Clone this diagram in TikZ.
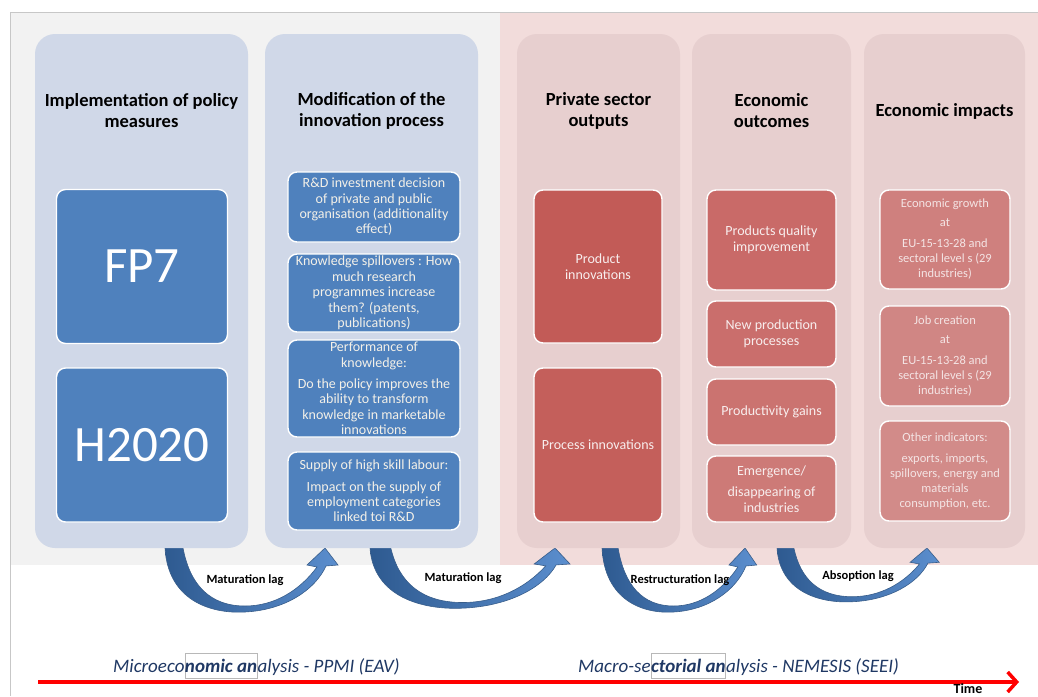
\documentclass[tikz,border=0pt]{standalone}
\usepackage{fontspec}
\setmainfont{Carlito}
\usepackage{xcolor}
\usepackage{tikz}
\usetikzlibrary{
    positioning,
    arrows.meta
}
\definecolor{panelgray}{HTML}{F2F2F2}
\definecolor{panelpink}{HTML}{F2DCDB}
\definecolor{colblue}{HTML}{D0D8E8}
\definecolor{colpink}{HTML}{E7CFCF}
\definecolor{boxblue}{HTML}{4F81BD}
\definecolor{navy}{HTML}{1F3864}
\definecolor{lagdark}{HTML}{2E5A90}
\definecolor{laglight}{HTML}{5B8ECE}
\definecolor{lagline}{HTML}{385D8A}
\tikzset{
  bluecol/.style = {
      rectangle,
      rounded corners=20pt,
      fill=colblue,
      minimum width=213pt,
      minimum height=514pt,
      inner sep=0pt
  },
  pinkcol/.style = {
      bluecol,
      fill=colpink
  },
  title/.style = {
      font=\fontsize{18.5}{21}\selectfont\bfseries,
      align=center,
      text=black
  },
  basic/.style = {
      draw=white,
      line width=1.4pt,
      rectangle,
      rounded corners=9pt,
      align=center,
      inner sep=1pt
  },
  bluebox/.style = {
      basic,
      fill=boxblue,
      text={rgb,255:red,243;green,240;blue,232},
      font=\fontsize{14}{15.4}\selectfont
  },
  bigbox/.style = {
      bluebox,
      minimum width=171pt,
      minimum height=154pt,
      text=white,
      font=\fontsize{51}{56}\selectfont
  },
  redbox/.style = {
      basic,
      text={rgb,255:red,248;green,238;blue,238},
      font=\fontsize{14}{16}\selectfont
  },
  smallbox/.style = {
      redbox,
      minimum width=130pt,
      minimum height=99pt,
      text={rgb,255:red,244;green,228;blue,228},
      font=\fontsize{12.5}{15}\selectfont
  },
  lag/.style = {
      font=\fontsize{12.5}{14}\selectfont\bfseries,
      text=black,
      inner sep=1pt
  },
  analysis/.style = {
      font=\fontsize{19}{22}\selectfont\itshape,
      text=navy,
      inner sep=0pt
  },
  marked/.style = {
      analysis,
      draw=black!28,
      line width=0.5pt,
      text height=19pt,
      text depth=6pt,
      font=\fontsize{19}{22}\selectfont\bfseries\itshape
  },
  timeline/.style = {
      red,
      line width=4pt,
      -{Straight Barb[length=9pt,width=20pt,line width=3.5pt]}
  }
}
% curved lag arrow: start x, xscale, yscale
\newcommand{\lagarrow}[3]{%
  \shade[draw=lagline, line width=0.6pt, left color=lagdark, right color=laglight,
         shift={(#1,548)}, xscale=#2, yscale=#3]
    (0,-12) -- (0,0) .. controls (3,52) and (45,66) .. (80,64)
    .. controls (120,62) and (150,42) .. (161,18)
    -- (173,17) -- (160,0) -- (142,17) -- (152,19)
    .. controls (135,42) and (110,58) .. (80,58)
    .. controls (45,58) and (25,37) .. (18,0) -- (18,-12) -- cycle;
}

\begin{document}
\begin{tikzpicture}[x=1pt, y=-1pt]
    \useasboundingbox (0,0) rectangle (1038,696);
    % Panels
    \fill[panelgray] (10,12) rectangle (500,565);
    \fill[panelpink] (500,12) rectangle (1038,565);
    \draw[black!22, line width=0.8pt] (10,696) -- (10,12) -- (1038,12);
    % Lag arrows
    \lagarrow{165}{1}{1}
    \lagarrow{370}{1.156}{0.94}
    \lagarrow{602}{0.894}{1}
    \lagarrow{777}{0.9375}{0.84}
    % Columns
    \node[bluecol] (policy) at (141.5,291) {};
    \node[bluecol] (process) at (371.5,291) {};
    \node[pinkcol, minimum width=163pt] (outputs) at (598.5,291) {};
    \node[pinkcol, minimum width=159pt] (outcomes) at (771.5,291) {};
    \node[pinkcol, minimum width=161pt] (impacts) at (944.5,291) {};
    % Titles
    \node[title] at (141.5,110.5) {Implementation of policy\\measures};
    \node[title] at (371.5,110.5) {Modification of the\\innovation process};
    \node[title] at (598.5,111) {Private sector\\outputs};
    \node[title] at (771.5,111) {Economic\\outcomes};
    \node[title] at (944.5,111) {Economic impacts};
    % Policy measures
    \node[bigbox] (fp7) at (142,266.5) {FP7};
    \node[bigbox] (h2020) at (142,445) {H2020};
    % Innovation process
    \node[bluebox, minimum width=172pt, minimum height=70pt] (rd) at (374,207)
        {R\&D investment decision\\of private and public\\organisation (additionality\\effect)};
    \node[bluebox, minimum width=172pt, minimum height=78pt] (spill) at (374,293)
        {Knowledge spillovers : How\\much research\\programmes increase\\them? (patents,\\publications)};
    \node[bluebox, minimum width=172pt, minimum height=97pt] (perf) at (374,388.5)
        {Performance of\\knowledge:\\[6pt]Do the policy improves the\\ability to transform\\knowledge in marketable\\innovations};
    \node[bluebox, minimum width=172pt, minimum height=78pt] (skill) at (374,491)
        {Supply of high skill labour:\\[6pt]Impact on the supply of\\employment categories\\linked toi R\&D};
    % Private sector outputs
    \node[redbox, fill={rgb,255:red,194;green,91;blue,87}, minimum width=128pt, minimum height=153pt] (product) at (598,266.5)
        {Product\\innovations};
    \node[redbox, fill={rgb,255:red,196;green,95;blue,91}, minimum width=128pt, minimum height=154pt] (procinn) at (598,445)
        {Process innovations};
    % Economic outcomes
    \node[redbox, fill={rgb,255:red,201;green,106;blue,104}, minimum width=129pt, minimum height=100pt] (quality) at (771.5,240)
        {Products quality\\improvement};
    \node[redbox, fill={rgb,255:red,202;green,110;blue,108}, minimum width=129pt, minimum height=66pt] (newprod) at (771.5,334)
        {New production\\processes};
    \node[redbox, fill={rgb,255:red,203;green,115;blue,112}, minimum width=129pt, minimum height=66pt] (gains) at (771.5,412)
        {Productivity gains};
    \node[redbox, fill={rgb,255:red,205;green,122;blue,119}, minimum width=129pt, minimum height=66pt] (emerge) at (771.5,489)
        {Emergence/\\[5pt]disappearing of\\industries};
    % Economic impacts
    \node[smallbox, fill={rgb,255:red,207;green,128;blue,126}] (growth) at (945,239.5)
        {Economic growth\\[4pt]at\\[6pt]EU-15-13-28 and\\sectoral level s (29\\industries)};
    \node[smallbox, fill={rgb,255:red,208;green,134;blue,132}, minimum height=100pt] (jobs) at (945,356)
        {Job creation\\[4pt]at\\[6pt]EU-15-13-28 and\\sectoral level s (29\\industries)};
    \node[smallbox, fill={rgb,255:red,210;green,139;blue,137}, minimum height=100pt] (other) at (945,471)
        {Other indicators:\\[6pt]exports, imports,\\spillovers, energy and\\materials\\consumption, etc.};
    % Lag labels
    \node[lag] (lag1) at (245,580) {Maturation lag};
    \node[lag] (lag2) at (463,578) {Maturation lag};
    \node[lag] (lag3) at (680,580) {Restructuration lag};
    \node[lag] (lag4) at (858,576) {Absoption lag};
    % Analyses
    \node[analysis, anchor=base west] (mic1) at (113,672) {Microeco};
    \node[marked, base right=0pt of mic1] (mic2) {nomic an};
    \node[analysis, base right=0pt of mic2] (mic3) {alysis - PPMI (EAV)};
    \node[analysis, anchor=base west] (mac1) at (578,672) {Macro-se};
    \node[marked, base right=0pt of mac1] (mac2) {ctorial an};
    \node[analysis, base right=0pt of mac2] (mac3) {alysis - NEMESIS (SEEI)};
    % Time axis
    \coordinate (t0) at (38,682);
    \coordinate (t1) at (1019,682);
    \draw[timeline] (t0) -- (t1);
    \node[font=\fontsize{14}{16}\selectfont\bfseries, inner sep=0pt, anchor=base] (time) at (968,693) {Time};
\end{tikzpicture}
\end{document}
